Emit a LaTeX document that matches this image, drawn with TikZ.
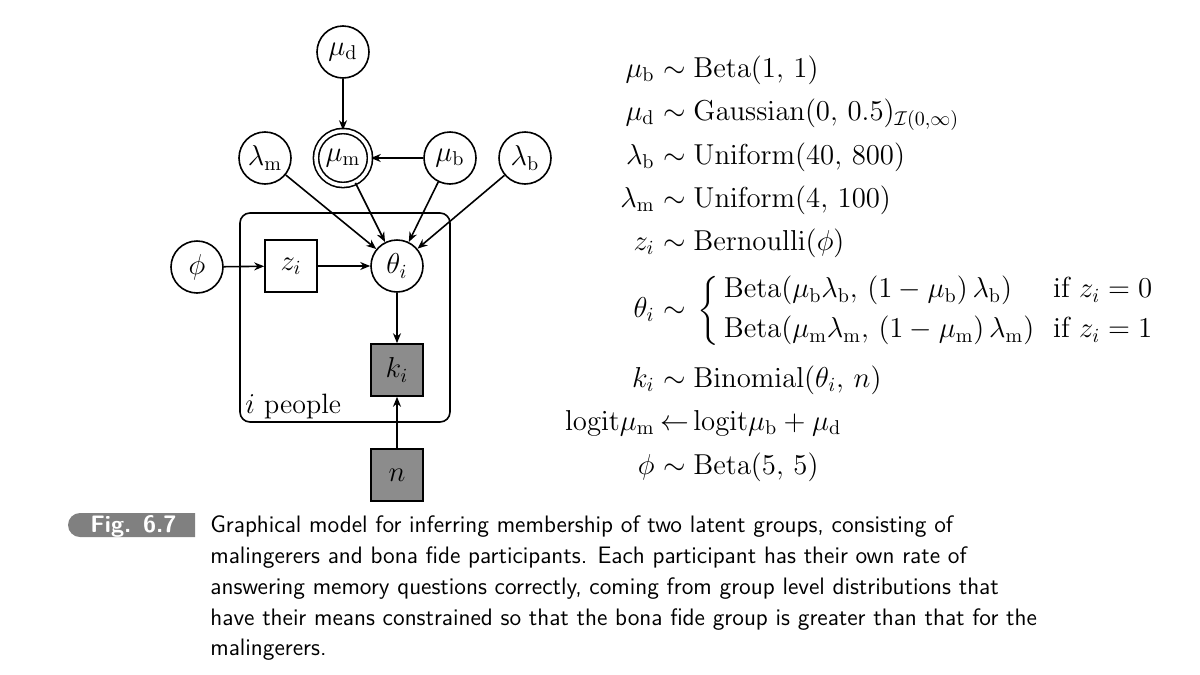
\documentclass[tikz,border=0pt]{standalone}
\usepackage{amsmath}
\usetikzlibrary{arrows.meta}
\begin{document}
\begin{tikzpicture}[x=0.5pt,y=-0.5pt,
  every node/.style={font=\fontsize{14}{16}\selectfont},
  lat/.style={circle,draw,thick,minimum size=26pt,inner sep=0pt},
  det/.style={circle,draw,thick,double,double distance=1.8pt,minimum size=27pt,inner sep=0pt},
  obs/.style={rectangle,draw,thick,fill=black!45,minimum size=26pt,inner sep=0pt},
  dis/.style={rectangle,draw,thick,minimum size=26pt,inner sep=0pt},
  arr/.style={-{Stealth[length=5pt,width=4pt]},thick},
  eq/.style={anchor=base,inner sep=0pt,font=\fontsize{14.5}{17}\selectfont},
  captxt/.style={font=\sffamily\fontsize{11.9}{14}\selectfont,anchor=base west,inner sep=0pt}]
\useasboundingbox (0,0) rectangle (1200,675);
% plate
\draw[thick,rounded corners=5pt] (240,213) rectangle (450,422);
\node[anchor=base west,inner sep=0pt] (plate) at (245,413) {$i$ people};
% nodes
\node[lat] (mud) at (343,52) {$\mu_{\mathrm{d}}$};
\node[lat] (lm) at (265,158) {$\lambda_{\mathrm{m}}$};
\node[det] (mum) at (343,158) {$\mu_{\mathrm{m}}$};
\node[lat] (mub) at (450,158) {$\mu_{\mathrm{b}}$};
\node[lat] (lb) at (525,158) {$\lambda_{\mathrm{b}}$};
\node[lat] (phi) at (197,267) {$\phi$};
\node[dis] (z) at (291,266) {$z_i$};
\node[lat] (th) at (397,266) {$\theta_i$};
\node[obs] (k) at (397,370) {$k_i$};
\node[obs] (n) at (397,475) {$n$};
% edges
\draw[arr] (mud) -- (mum);
\draw[arr] (mub) -- (mum);
\draw[arr] (lm) -- (th);
\draw[arr] (mum) -- (th);
\draw[arr] (mub) -- (th);
\draw[arr] (lb) -- (th);
\draw[arr] (phi) -- (z);
\draw[arr] (z) -- (th);
\draw[arr] (th) -- (k);
\draw[arr] (n) -- (k);
% equations
\foreach \y/\l/\r [count=\i] in {
  77/{\mu_{\mathrm{b}}}/{\mathrm{Beta}(1,\,1)},
  120/{\mu_{\mathrm{d}}}/{\mathrm{Gaussian}(0,\,0.5)_{\mathcal{I}(0,\infty)}},
  164/{\lambda_{\mathrm{b}}}/{\mathrm{Uniform}(40,\,800)},
  207/{\lambda_{\mathrm{m}}}/{\mathrm{Uniform}(4,\,100)},
  250/{z_i}/{\mathrm{Bernoulli}(\phi)},
  387/{k_i}/{\mathrm{Binomial}(\theta_i,\,n)},
  474/{\phi}/{\mathrm{Beta}(5,\,5)}}{
  \node[eq,anchor=base east] (l\i) at (655,\y) {$\l$};
  \node[eq] (s\i) at (675,\y) {$\sim$};
  \node[eq,anchor=base west] (r\i) at (693,\y) {$\r$};
}
\node[eq,anchor=base east] (lth) at (655,317) {$\theta_i$};
\node[eq] (sth) at (675,317) {$\sim$};
\node[anchor=west,inner sep=0pt,font=\fontsize{14.5}{17}\selectfont] (rth) at (697,311) {$\left\{\begin{array}{@{\,}l@{\ \ }l}
 \mathrm{Beta}(\mu_{\mathrm{b}}\lambda_{\mathrm{b}},\,(1-\mu_{\mathrm{b}})\,\lambda_{\mathrm{b}}) & \text{if } z_i=0\\[3pt]
 \mathrm{Beta}(\mu_{\mathrm{m}}\lambda_{\mathrm{m}},\,(1-\mu_{\mathrm{m}})\,\lambda_{\mathrm{m}}) & \text{if } z_i=1
 \end{array}\right.$};
\node[eq,anchor=base east] (llg) at (655,430) {$\mathrm{logit}\mu_{\mathrm{m}}$};
\node[eq] (slg) at (675,430) {$\leftarrow$};
\node[eq,anchor=base west] (rlg) at (693,430) {$\mathrm{logit}\mu_{\mathrm{b}}+\mu_{\mathrm{d}}$};
% caption
\fill[black!50,rounded corners=6pt] (195,513) -- (68,513) -- (68,537) [sharp corners] -- (195,537) -- cycle;
\node[captxt,text=white,font=\sffamily\bfseries\fontsize{11.9}{14}\selectfont] (fig) at (90,532) {Fig. 6.7};
\node[captxt] (c1) at (210,532) {Graphical model for inferring membership of two latent groups, consisting of};
\node[captxt] (c2) at (210,563) {malingerers and bona fide participants. Each participant has their own rate of};
\node[captxt] (c3) at (210,594) {answering memory questions correctly, coming from group level distributions that};
\node[captxt] (c4) at (210,625) {have their means constrained so that the bona fide group is greater than that for the};
\node[captxt] (c5) at (210,655) {malingerers.};
\end{tikzpicture}
\end{document}
